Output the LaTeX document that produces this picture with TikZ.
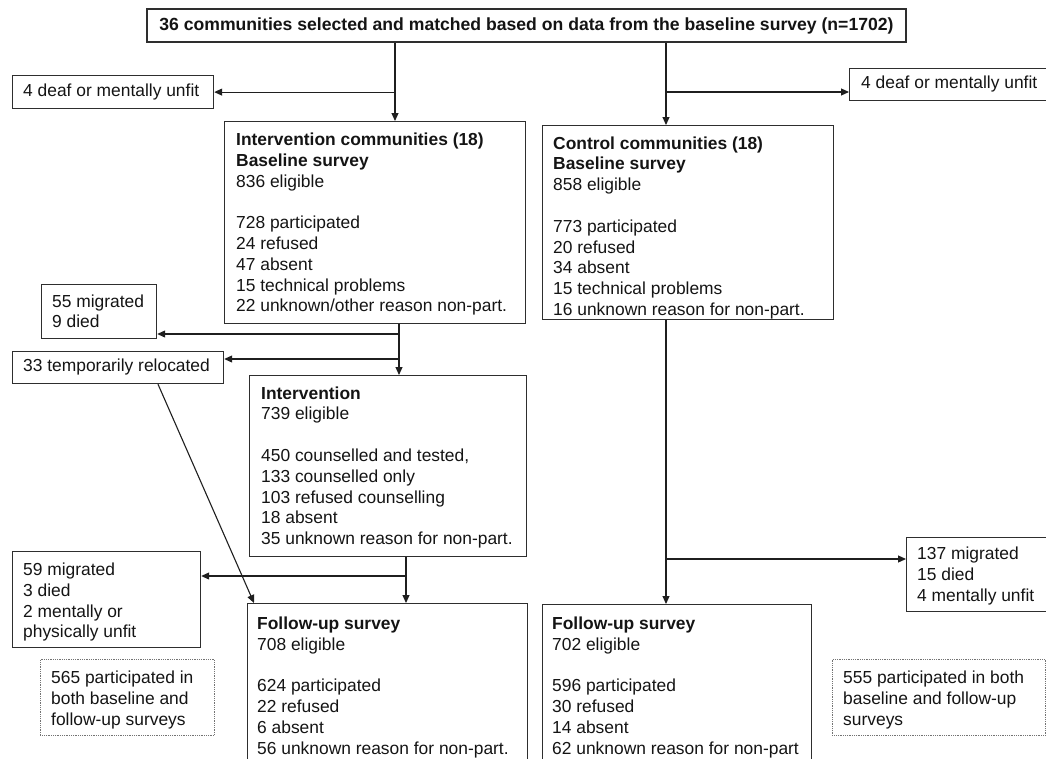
\documentclass[tikz,border=0pt]{standalone}
\usepackage{fontspec}
\setmainfont{Liberation Sans}
\usetikzlibrary{arrows.meta}
\begin{document}
\begin{tikzpicture}[x=1pt,y=-1pt,
  every node/.style={font=\fontsize{17.4}{20.8}\selectfont, text=black!92},
  boxn/.style={draw=black!82, line width=1.2pt, inner sep=0pt, anchor=north west},
  dbox/.style={draw=black!55, densely dotted, line width=0.8pt, inner sep=0pt, anchor=north west},
  txt/.style={inner sep=0pt, anchor=north west, align=left},
  ltxt/.style={inner sep=0pt, anchor=west},
  conn/.style={draw=black!88, line width=1.1pt},
  arr/.style={conn, -{Triangle[length=8pt,width=7pt]}},
]
\useasboundingbox (0,0) rectangle (1046,758);
\clip (0,0) rectangle (1046,758);

% boxes
\node[draw=black!82, line width=1.2pt, inner sep=0pt, minimum width=759, minimum height=33,
      font=\fontsize{17.6}{20.8}\selectfont\bfseries] (sel) at (526.5,25.5)
      {36 communities selected and matched based on data from the baseline survey (n=1702)};
\node[boxn, minimum width=201, minimum height=33] (l1) at (12,75) {};
\node[ltxt] (l1t) at (23,91.5) {4 deaf or mentally unfit};
\node[boxn, minimum width=197.5, minimum height=32] (r1) at (849,68) {};
\node[ltxt] (r1t) at (861,84) {4 deaf or mentally unfit};

\node[boxn, minimum width=301, minimum height=202] (ic) at (224,121) {};
\node[txt] (ict) at (236,132.6) {\textbf{Intervention communities (18)}\\
  \textbf{Baseline survey}\\ 836 eligible\\[20.8pt]
  728 participated\\ 24 refused\\ 47 absent\\ 15 technical problems\\
  22 unknown/other reason non-part.};

\node[boxn, minimum width=291, minimum height=194] (cc) at (542,125) {};
\node[txt] (cct) at (553,136.2) {\textbf{Control communities (18)}\\
  \textbf{Baseline survey}\\ 858 eligible\\[20.8pt]
  773 participated\\ 20 refused\\ 34 absent\\ 15 technical problems\\
  16 unknown reason for non-part.};

\node[boxn, minimum width=115, minimum height=54] (l2) at (41,284) {};
\node[txt] (l2t) at (52,294.2) {55 migrated\\ 9 died};
\node[boxn, minimum width=211, minimum height=32] (l3) at (12,351) {};
\node[ltxt] (l3t) at (23,367) {33 temporarily relocated};

\node[boxn, minimum width=277, minimum height=181] (int) at (249,375) {};
\node[txt] (intt) at (261,386.2) {\textbf{Intervention}\\ 739 eligible\\[20.8pt]
  450 counselled and tested,\\ 133 counselled only\\ 103 refused counselling\\
  18 absent\\ 35 unknown reason for non-part.};

\node[boxn, minimum width=188, minimum height=96] (l4) at (12,551) {};
\node[txt] (l4t) at (23,562.6) {59 migrated\\ 3 died\\ 2 mentally or\\ physically unfit};

\node[boxn, minimum width=139.5, minimum height=74] (r2) at (906,537) {};
\node[txt] (r2t) at (917,546.6) {137 migrated\\ 15 died\\ 4 mentally unfit};

\node[boxn, minimum width=280, minimum height=200] (fl) at (247,603) {};
\node[txt] (flt) at (257,616.6) {\textbf{Follow-up survey}\\ 708 eligible\\[20.8pt]
  624 participated\\ 22 refused\\ 6 absent\\ 56 unknown reason for non-part.};

\node[boxn, minimum width=269, minimum height=200] (fr) at (542,604) {};
\node[txt] (frt) at (552,616.6) {\textbf{Follow-up survey}\\ 702 eligible\\[20.8pt]
  596 participated\\ 30 refused\\ 14 absent\\ 62 unknown reason for non-part};

\node[dbox, minimum width=174, minimum height=76] (d1) at (40,659) {};
\node[txt] (d1t) at (51,670.6) {565 participated in\\ both baseline and\\ follow-up surveys};
\node[dbox, minimum width=213, minimum height=76] (d2) at (832,659) {};
\node[txt] (d2t) at (843,670.6) {555 participated in both\\ baseline and follow-up\\ surveys};

% connector coordinates
\coordinate (xa) at (395,0);
\coordinate (xb) at (666,0);
\coordinate (xc) at (399,0);
\coordinate (xd) at (406,0);
\coordinate (dgs) at (158,0);
\coordinate (r1a) at (666,92);
\coordinate (l2a) at (399,334);
\coordinate (l3a) at (399,359);
\coordinate (l4a) at (406,576);
\coordinate (r2a) at (666,559);

% connectors
\draw[arr] (sel.south -| xa) -- (ic.north -| xa);
\draw[arr] (l1.east -| xa) -- (l1.east);
\draw[arr] (sel.south -| xb) -- (cc.north -| xb);
\draw[arr] (r1a) -- (r1a -| r1.west);
\draw[arr] (ic.south -| xc) -- (int.north -| xc);
\draw[arr] (l2a) -- (l2a -| l2.east);
\draw[arr] (l3a) -- (l3a -| l3.east);
\draw[arr] (l3.south -| dgs) -- ([xshift=7pt]fl.north west);
\draw[arr] (int.south -| xd) -- (fl.north -| xd);
\draw[arr] (l4a) -- (l4a -| l4.east);
\draw[arr] (cc.south -| xb) -- (fr.north -| xb);
\draw[arr] (r2a) -- (r2a -| r2.west);
\end{tikzpicture}
\end{document}
